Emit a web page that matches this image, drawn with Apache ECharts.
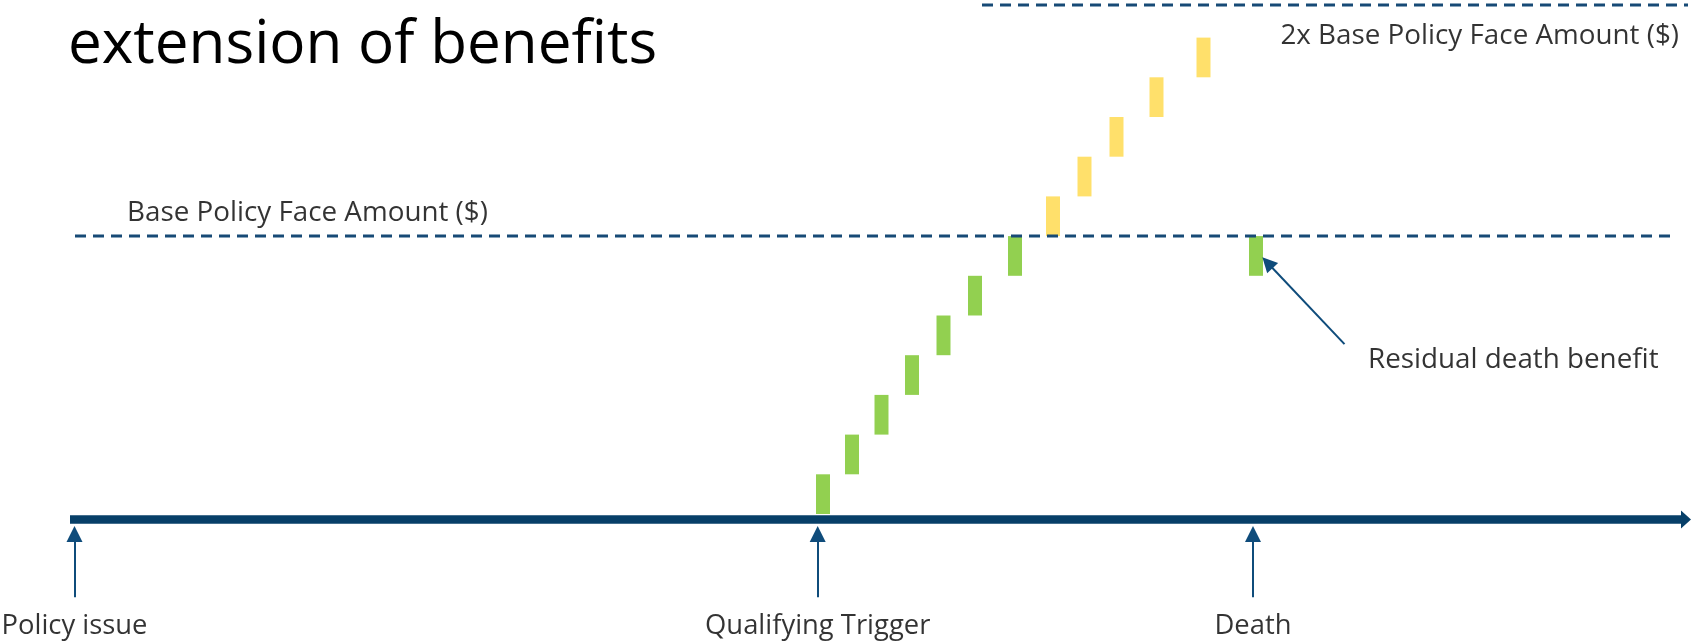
<!DOCTYPE html>
<html>
<head>
<meta charset="utf-8">
<title>extension of benefits</title>
<script src="https://cdn.jsdelivr.net/npm/echarts@6/dist/echarts.min.js"></script>
<style>
  html, body { margin: 0; padding: 0; background: #ffffff; }
  #chart { width: 1692px; height: 644px; }
</style>
</head>
<body>
<div id="chart"></div>
<script>
// Timeline units run left to right from policy issue; benefit units run upward in equal steps.
const eventNames = ['Policy issue', 'Qualifying Trigger', 'Death'];
const eventTimes = [0, 74.32, 117.85];

// Each bar: [time, benefit from, benefit to]
const acceleratedBars = [
  [74.85, 0, 1], [77.75, 1, 2], [80.7, 2, 3], [83.75, 3, 4],
  [86.9, 4, 5], [90.05, 5, 6], [94.05, 6, 7]
];
const extensionBars = [
  [97.85, 7, 8], [101.0, 8, 9], [104.2, 9, 10], [108.2, 10, 11], [112.9, 11, 12]
];
const residualBar = [[118.15, 6, 7]];

const baseAmount = 7;
const doubleAmount = 12.82;
const baseLineSpan = [0.05, 159.85];
const doubleLineSpan = [90.75, 161.75];

const baseLabel = 'Base Policy Face Amount ($)';
const doubleLabel = '2x Base Policy Face Amount ($)';
const residualLabel = 'Residual death benefit';
// pointer from the label towards the residual bar: [from, to]
const residualPointer = [[127.0, 4.28], [119.3, 6.33]];

const NAVY = '#0f4c7b';
const AXIS = '#073f68';
const DASH = '#174a76';
const FONT = '"Open Sans", "Noto Sans", sans-serif';

function renderBar(params, api) {
  const x = api.value(0);
  const p0 = api.coord([x, api.value(1)]);
  const p1 = api.coord([x, api.value(2)]);
  const w = 14;
  return {
    type: 'rect',
    shape: { x: p0[0] - w / 2, y: p1[1], width: w, height: p0[1] - p1[1] },
    style: api.style()
  };
}

function barSeries(data, color) {
  return {
    type: 'custom',
    renderItem: renderBar,
    data: data,
    encode: { x: 0, y: [1, 2] },
    itemStyle: { color: color },
    clip: false,
    silent: true
  };
}

function dashedLine(span, value) {
  return {
    type: 'line',
    data: [[span[0], value], [span[1], value]],
    symbol: 'none',
    clip: false,
    silent: true,
    lineStyle: { color: DASH, width: 3, type: [11, 7] }
  };
}

function textSeries(items, position, size) {
  return {
    type: 'scatter',
    data: items,
    symbolSize: 0,
    clip: false,
    silent: true,
    itemStyle: { color: 'transparent' },
    label: {
      show: true,
      position: position,
      distance: 0,
      formatter: p => p.value[2],
      fontFamily: FONT,
      fontSize: size,
      fontWeight: 'normal',
      color: '#000000'
    }
  };
}

const eventArrowLength = [-2.1, -0.504];

const chart = echarts.init(document.getElementById('chart'), null, { renderer: 'canvas' });
chart.setOption({
  backgroundColor: '#ffffff',
  animation: false,
  title: {
    text: 'extension of benefits',
    left: 63,
    top: 11,
    textStyle: { fontFamily: FONT, fontSize: 60.2, fontWeight: 'normal', color: '#000000' }
  },
  grid: { left: 70, right: 6, top: 0, bottom: 124.5, containLabel: false },
  xAxis: {
    type: 'value',
    min: -0.45,
    max: 161.15,
    axisLine: {
      show: true,
      onZero: false,
      symbol: ['none', 'triangle'],
      symbolSize: [18, 10],
      lineStyle: { color: AXIS, width: 8.5, cap: 'butt' }
    },
    axisTick: { show: false },
    axisLabel: { show: false },
    splitLine: { show: false }
  },
  yAxis: {
    type: 'value',
    min: -0.1385,
    max: 12.947,
    show: false,
    splitLine: { show: false }
  },
  series: [
    dashedLine(baseLineSpan, baseAmount),
    dashedLine(doubleLineSpan, doubleAmount),
    barSeries(acceleratedBars, '#92d050'),
    barSeries(extensionBars, '#ffe06b'),
    barSeries(residualBar, '#92d050'),
    {
      type: 'lines',
      coordinateSystem: 'cartesian2d',
      clip: false,
      silent: true,
      symbol: ['none', 'triangle'],
      symbolSize: 16,
      lineStyle: { color: NAVY, width: 2, opacity: 1, curveness: 0 },
      data: eventTimes.map(t => ({ coords: [[t, eventArrowLength[0]], [t, eventArrowLength[1]]] }))
    },
    {
      type: 'lines',
      coordinateSystem: 'cartesian2d',
      clip: false,
      silent: true,
      symbol: ['none', 'triangle'],
      symbolSize: 15,
      lineStyle: { color: NAVY, width: 2, opacity: 1, curveness: 0 },
      data: [{ coords: residualPointer }]
    },
    textSeries(eventNames.map((n, i) => [eventTimes[i], -2.82, n]), 'inside', 27.4),
    textSeries([[5.25, 7.57, baseLabel], [129.35, 3.88, residualLabel]], 'right', 27.8),
    textSeries([[160.45, 12.04, doubleLabel]], 'left', 27.8)
  ]
});
</script>
</body>
</html>
